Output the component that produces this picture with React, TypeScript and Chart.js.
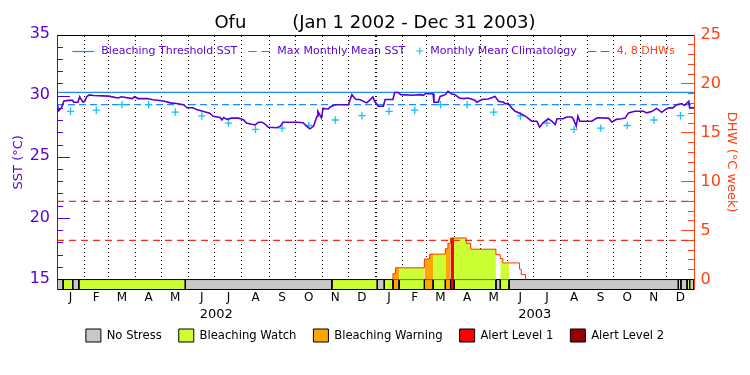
import React, { useEffect, useRef } from 'react';
import { Chart, registerables } from 'chart.js';

Chart.register(...registerables);

// ---------- data ----------
const monthLengths = [31, 28, 31, 30, 31, 30, 31, 31, 30, 31, 30, 31, 31, 28, 31, 30, 31, 30, 31, 31, 30, 31, 30, 31];
const monthLetters = ['J', 'F', 'M', 'A', 'M', 'J', 'J', 'A', 'S', 'O', 'N', 'D'];
const yearLabels = ['2002', '2003'];
const sstTickLabels = [15, 20, 25, 30, 35];
const dhwTickLabels = [0, 5, 10, 15, 20, 25];

// days since Jan 1 2002
const sstDays = [
  0, 2, 5, 8, 13, 18, 19, 24, 26, 28, 30, 32, 34, 37, 42, 59, 70, 74, 86, 89, 93, 103, 110, 122, 130, 137, 145, 149,
  156, 160, 168, 175, 179, 187, 189, 191, 195, 200, 204, 208, 212, 214, 217, 223, 227, 231, 235, 238, 242, 252, 256,
  259, 275, 282, 286, 290, 294, 298, 299, 303, 305, 311, 313, 319, 334, 336, 338, 341, 343, 347, 355, 359, 362, 364,
  368, 374, 376, 385, 387, 391, 394, 408, 416, 420, 422, 431, 432, 437, 439, 445, 448, 452, 456, 461, 466, 471, 479,
  481, 487, 494, 502, 506, 512, 513, 517, 521, 525, 531, 538, 544, 550, 553, 557, 563, 567, 571, 573, 580, 584, 590,
  592, 595, 597, 599, 613, 619, 632, 636, 641, 647, 651, 655, 662, 672, 676, 682, 687, 693, 697, 701, 706, 710, 716,
  719, 724, 725, 730,
];
const sstValues = [
  29.45, 28.8, 29.05, 29.6, 29.65, 29.65, 29.5, 29.5, 29.95, 29.7, 29.5, 29.6, 29.95, 30.1, 30.05, 30.0, 29.85, 29.95,
  29.8, 29.95, 29.8, 29.8, 29.7, 29.6, 29.45, 29.4, 29.3, 29.05, 29.05, 28.9, 28.75, 28.6, 28.35, 28.25, 28.05, 28.25,
  28.1, 28.2, 28.2, 28.2, 28.1, 28.05, 27.8, 27.7, 27.65, 27.87, 27.87, 27.74, 27.46, 27.41, 27.55, 27.87, 27.87, 27.82,
  27.55, 27.33, 27.55, 28.36, 28.76, 28.23, 29.0, 28.95, 29.12, 29.3, 29.3, 29.72, 30.12, 29.85, 29.72, 29.72, 29.45,
  29.72, 29.93, 29.58, 29.17, 29.17, 29.72, 29.72, 30.3, 30.3, 30.12, 30.07, 30.12, 30.07, 30.2, 30.2, 29.5, 29.5,
  29.98, 30.12, 30.39, 30.2, 30.12, 29.85, 29.8, 29.85, 29.66, 29.5, 29.72, 29.77, 29.98, 29.58, 29.5, 29.39, 29.39,
  29.04, 28.76, 28.58, 28.31, 27.95, 27.95, 27.46, 27.82, 28.15, 27.95, 27.68, 28.15, 28.15, 28.29, 28.29, 28.1, 27.55,
  28.36, 27.95, 27.95, 28.23, 28.2, 27.87, 28.1, 28.15, 28.2, 28.63, 28.76, 28.76, 28.63, 28.76, 29.0, 28.68, 28.9,
  29.04, 29.04, 29.3, 29.39, 29.23, 29.58, 29.04, 29.04,
];

const climatologyMonthly = [28.76, 28.85, 29.3, 29.3, 28.7, 28.38, 27.8, 27.28, 27.38, 27.6, 28.05, 28.4];
const maxMonthlyMean = 29.3;
const bleachingThreshold = 30.3;
const dhwLevels = [4, 8];

const dhwDays = [385, 385, 388, 392, 421, 427, 431, 445, 448, 451, 455, 469, 474, 503, 508, 511, 518, 530, 532, 537];
const dhwValues = [0, 0.6, 1.2, 1.2, 2.1, 2.6, 2.6, 3.15, 3.7, 4.25, 4.25, 3.7, 3.1, 2.55, 2.15, 1.7, 1.7, 1.05, 0.5, 0];

const stressStartDays = [0, 7, 18, 25, 147, 315, 367, 375, 385, 392, 421, 431, 445, 451, 455, 503, 508, 518, 712, 715, 722, 725];
const stressLevels = [0, 1, 0, 1, 0, 1, 0, 1, 2, 1, 2, 1, 2, 3, 1, 0, 1, 0, 1, 0, 1, 0];
const stressNames = ['No Stress', 'Bleaching Watch', 'Bleaching Warning', 'Alert Level 1', 'Alert Level 2'];

// ---------- styles ----------
const FONT = '"DejaVu Sans", sans-serif';
const PURPLE = '#5A00D2';
const BLUE = '#1E8CFF';
const CYAN = '#10C4FF';
const RED = '#FF2A1A';
const AXIS_RED = '#FF4010';
const DHW_RED = '#FF3300';
const stressColors = ['#C8C8C8', '#CCFF33', '#FFA500', '#FF0000', '#990000'];

const SST_MIN = 14.186;
const SST_MAX = 35;
const DHW_MIN = -1.0184;
const DHW_MAX = 25;
const BAR_TOP = 15;

const dayCount = monthLengths.reduce((a, b) => a + b, 0);
const monthStarts: number[] = [];
monthLengths.reduce((acc, len) => {
  monthStarts.push(acc);
  return acc + len;
}, 0);
const monthMids = monthStarts.map((s, i) => s + monthLengths[i] / 2);
const yearMids = yearLabels.map((_, i) => (i * 365) + 365 / 2);

function levelAt(day: number): number {
  let lvl = stressLevels[0];
  for (let i = 0; i < stressStartDays.length; i++) {
    if (stressStartDays[i] <= day) lvl = stressLevels[i];
  }
  return lvl;
}

const range = (a: number, b: number) => {
  const r: number[] = [];
  for (let v = a; v <= b; v++) r.push(v);
  return r;
};

// let the year-label axis draw its text below its (thin) layout box
const yearAxisPlugin = {
  id: 'yearAxisRoom',
  afterLayout(chart: any) {
    const s = chart.scales.xYear;
    if (s) {
      s.bottom = s.top + 20;
      s.height = 20;
    }
  },
};

const topLegendPlugin = {
  id: 'topLegend',
  afterDatasetsDraw(chart: any) {
    const { ctx, chartArea } = chart;
    const items = [
      { kind: 'line', color: BLUE, dash: [] as number[], text: 'Bleaching Threshold SST', textColor: PURPLE },
      { kind: 'line', color: BLUE, dash: [8.5, 4.5], text: 'Max Monthly Mean SST', textColor: PURPLE },
      { kind: 'cross', color: CYAN, dash: [] as number[], text: 'Monthly Mean Climatology', textColor: PURPLE },
      { kind: 'line', color: RED, dash: [8.5, 4.5], text: '4, 8 DHWs', textColor: AXIS_RED },
    ];
    ctx.save();
    ctx.font = `11px ${FONT}`;
    ctx.textBaseline = 'middle';
    const sampleW = (k: string) => (k === 'line' ? 22 : 7);
    const widths = items.map((it) => sampleW(it.kind) + 7 + ctx.measureText(it.text).width);
    const total = widths.reduce((a, b) => a + b, 0) + 11 * (items.length - 1);
    let x = (chartArea.left + chartArea.right) / 2 - total / 2 - 2;
    const y = chartArea.top + 16;
    items.forEach((it, i) => {
      const sw = sampleW(it.kind);
      ctx.strokeStyle = it.color;
      ctx.lineWidth = 1.2;
      ctx.setLineDash(it.dash);
      ctx.beginPath();
      if (it.kind === 'line') {
        ctx.moveTo(x, y + 0.5);
        ctx.lineTo(x + sw, y + 0.5);
      } else {
        ctx.moveTo(x, y);
        ctx.lineTo(x + sw, y);
        ctx.moveTo(x + sw / 2, y - sw / 2);
        ctx.lineTo(x + sw / 2, y + sw / 2);
      }
      ctx.stroke();
      ctx.setLineDash([]);
      ctx.fillStyle = it.textColor;
      ctx.textAlign = 'left';
      ctx.fillText(it.text, x + sw + 7, y);
      x += widths[i] + 11;
    });
    ctx.restore();
  },
};

export default function App() {
  const ref = useRef<HTMLCanvasElement | null>(null);

  useEffect(() => {
    if (!ref.current) return;

    const stressDatasets = stressStartDays.map((s, i) => {
      const e = i + 1 < stressStartDays.length ? stressStartDays[i + 1] : dayCount;
      return {
        type: 'line' as const,
        label: stressNames[stressLevels[i]],
        data: [
          { x: s, y: SST_MIN },
          { x: s, y: BAR_TOP },
          { x: e, y: BAR_TOP },
          { x: e, y: SST_MIN },
        ],
        yAxisID: 'y',
        borderColor: '#000',
        borderWidth: 1,
        backgroundColor: stressColors[stressLevels[i]],
        fill: 'start',
        pointRadius: 0,
        tension: 0,
        order: 10,
      };
    });

    const climDays: number[] = [];
    const climVals: number[] = [];
    monthMids.forEach((d, i) => {
      climDays.push(d);
      climVals.push(climatologyMonthly[i % 12]);
    });

    const chart = new Chart(ref.current, {
      type: 'line',
      data: {
        datasets: [
          {
            label: 'SST',
            data: sstDays.map((d, i) => ({ x: d, y: sstValues[i] })),
            yAxisID: 'y',
            borderColor: PURPLE,
            borderWidth: 1.6,
            pointRadius: 0,
            tension: 0,
            order: 0,
          },
          {
            label: 'Monthly Mean Climatology',
            data: climDays.map((d, i) => ({ x: d, y: climVals[i] })),
            yAxisID: 'y',
            showLine: false,
            pointStyle: 'cross',
            pointRadius: 3.7,
            pointBorderWidth: 1.3,
            pointBorderColor: CYAN,
            borderColor: CYAN,
            order: 1,
          },
          {
            label: 'Bleaching Threshold SST',
            data: [{ x: 0, y: bleachingThreshold }, { x: dayCount, y: bleachingThreshold }],
            yAxisID: 'y',
            borderColor: BLUE,
            borderWidth: 1.2,
            pointRadius: 0,
            order: 2,
          },
          {
            label: 'Max Monthly Mean SST',
            data: [{ x: 0, y: maxMonthlyMean }, { x: dayCount, y: maxMonthlyMean }],
            yAxisID: 'y',
            borderColor: BLUE,
            borderWidth: 1.3,
            borderDash: [7, 4],
            pointRadius: 0,
            order: 3,
          },
          ...dhwLevels.map((lv) => ({
            label: `${lv} DHW`,
            data: [{ x: 0, y: lv }, { x: dayCount, y: lv }],
            yAxisID: 'y2',
            borderColor: RED,
            borderWidth: 1.2,
            borderDash: [7, 5],
            pointRadius: 0,
            order: 4,
          })),
          {
            label: 'DHW',
            data: dhwDays.map((d, i) => ({ x: d, y: dhwValues[i] })),
            yAxisID: 'y2',
            stepped: 'before',
            borderColor: DHW_RED,
            borderWidth: 1,
            backgroundColor: 'rgba(0,0,0,0)',
            fill: 'origin',
            pointRadius: 0,
            order: 5,
            segment: {
              backgroundColor: (c: any) => {
                const mid = (c.p0.parsed.x + c.p1.parsed.x) / 2;
                const lvl = levelAt(mid);
                return lvl === 0 ? 'rgba(0,0,0,0)' : stressColors[lvl];
              },
            },
          },
          ...stressDatasets,
        ] as any,
      },
      options: {
        responsive: false,
        animation: false,
        events: [],
        layout: { padding: { left: 0, right: 0, top: 0, bottom: 23 } },
        plugins: {
          title: {
            display: true,
            text: 'Ofu        (Jan 1 2002 - Dec 31 2003)',
            color: '#000',
            font: { family: FONT, size: 18, weight: 'normal' },
            padding: { top: 13, bottom: 0.4 },
          },
          legend: {
            display: true,
            position: 'bottom',
            onClick: () => {},
            labels: {
              boxWidth: 15,
              boxHeight: 13,
              padding: 17,
              color: '#000',
              font: { family: FONT, size: 11.6 },
              generateLabels: () =>
                stressNames.map((n, i) => ({
                  text: n,
                  fillStyle: stressColors[i],
                  strokeStyle: '#000',
                  lineWidth: 1,
                  hidden: false,
                })),
            },
          },
          tooltip: { enabled: false },
        },
        scales: {
          x: {
            type: 'linear',
            position: 'bottom',
            min: 0,
            max: dayCount,
            weight: 0,
            grid: { display: true, drawOnChartArea: false, drawTicks: false },
            border: { display: true, color: '#000', width: 1, z: 1 },
            ticks: {
              autoSkip: false,
              maxRotation: 0,
              padding: 1,
              color: '#000',
              font: { family: FONT, size: 12 },
              callback: (_v: any, i: number) => monthLetters[i % 12],
            },
            afterBuildTicks: (a: any) => {
              a.ticks = monthMids.map((v) => ({ value: v }));
            },
            afterFit: (a: any) => {
              a.height = 16;
            },
          },
          xYear: {
            type: 'linear',
            position: 'bottom',
            min: 0,
            max: dayCount,
            weight: 1,
            grid: { display: false, drawTicks: false },
            border: { display: false },
            ticks: {
              autoSkip: false,
              maxRotation: 0,
              padding: 1,
              color: '#000',
              font: { family: FONT, size: 13 },
              callback: (_v: any, i: number) => yearLabels[i],
            },
            afterBuildTicks: (a: any) => {
              a.ticks = yearMids.map((v) => ({ value: v }));
            },
            afterFit: (a: any) => {
              a.height = 6.5;
            },
          },
          xGrid: {
            type: 'linear',
            position: 'top',
            min: 0,
            max: dayCount,
            weight: 0,
            grid: {
              display: true,
              drawOnChartArea: true,
              drawTicks: false,
              color: '#000',
              lineWidth: (c: any) => (c.tick && c.tick.value === 365 ? 2 : 1),
            },
            border: { display: true, color: '#000', width: 1, dash: [1, 3], z: 1 },
            ticks: { display: false, autoSkip: false },
            afterBuildTicks: (a: any) => {
              a.ticks = monthStarts.filter((v) => v > 0).map((v) => ({ value: v }));
            },
            afterFit: (a: any) => {
              a.height = 0;
            },
          },
          y: {
            type: 'linear',
            position: 'left',
            min: SST_MIN,
            max: SST_MAX,
            weight: 1,
            grid: { display: true, drawOnChartArea: false, drawTicks: true, tickLength: -6, tickColor: PURPLE, tickWidth: 1 },
            border: { display: true, color: PURPLE, width: 1, z: 1 },
            ticks: {
              autoSkip: false,
              color: PURPLE,
              padding: 13,
              labelOffset: -1,
              font: { family: FONT, size: 16 },
              callback: (v: any) => (sstTickLabels.includes(v) ? String(v) : ''),
            },
            afterBuildTicks: (a: any) => {
              a.ticks = range(sstTickLabels[0], sstTickLabels[sstTickLabels.length - 1]).map((v) => ({ value: v }));
            },
            title: {
              display: true,
              text: 'SST (°C)',
              color: PURPLE,
              font: { family: FONT, size: 13 },
              padding: { top: 11, bottom: 0 },
            },
            afterFit: (a: any) => {
              a.width = 57;
            },
          },
          yMaj: {
            type: 'linear',
            position: 'left',
            min: SST_MIN,
            max: SST_MAX,
            weight: 0,
            grid: { display: true, drawOnChartArea: false, drawTicks: true, tickLength: -13, tickColor: PURPLE, tickWidth: 1 },
            border: { display: false },
            ticks: { display: false, autoSkip: false },
            afterBuildTicks: (a: any) => {
              a.ticks = sstTickLabels.map((v) => ({ value: v }));
            },
            afterFit: (a: any) => {
              a.width = 0;
            },
          },
          y2: {
            type: 'linear',
            position: 'right',
            min: DHW_MIN,
            max: DHW_MAX,
            weight: 1,
            grid: { display: true, drawOnChartArea: false, drawTicks: true, tickLength: -6, tickColor: AXIS_RED, tickWidth: 1 },
            border: { display: true, color: AXIS_RED, width: 1, z: 1 },
            ticks: {
              autoSkip: false,
              color: AXIS_RED,
              padding: 12.5,
              labelOffset: 0,
              font: { family: FONT, size: 16 },
              callback: (v: any) => (dhwTickLabels.includes(v) ? String(v) : ''),
            },
            afterBuildTicks: (a: any) => {
              a.ticks = range(dhwTickLabels[0], dhwTickLabels[dhwTickLabels.length - 1]).map((v) => ({ value: v }));
            },
            title: {
              display: true,
              text: 'DHW (°C week)',
              color: AXIS_RED,
              font: { family: FONT, size: 13 },
              padding: { top: 10.5, bottom: 0 },
            },
            afterFit: (a: any) => {
              a.width = 56;
            },
          },
          y2Maj: {
            type: 'linear',
            position: 'right',
            min: DHW_MIN,
            max: DHW_MAX,
            weight: 0,
            grid: { display: true, drawOnChartArea: false, drawTicks: true, tickLength: -13, tickColor: AXIS_RED, tickWidth: 1 },
            border: { display: false },
            ticks: { display: false, autoSkip: false },
            afterBuildTicks: (a: any) => {
              a.ticks = dhwTickLabels.map((v) => ({ value: v }));
            },
            afterFit: (a: any) => {
              a.width = 0;
            },
          },
        },
      } as any,
      plugins: [topLegendPlugin, yearAxisPlugin],
    });

    return () => chart.destroy();
  }, []);

  return (
    <div style={{ position: 'absolute', left: 0, top: 0, width: 750, height: 375, background: '#fff' }}>
      <canvas ref={ref} width={750} height={375} />
    </div>
  );
}
